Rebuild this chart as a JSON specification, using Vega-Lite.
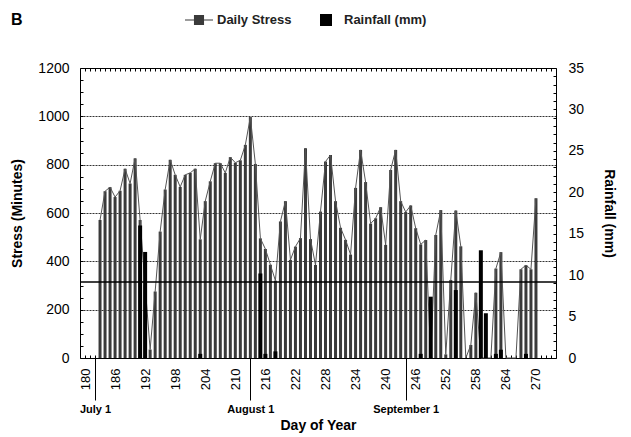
{
  "$schema": "https://vega.github.io/schema/vega-lite/v6.json",
  "width": 476,
  "height": 290,
  "autosize": {"type": "none"},
  "padding": {"left": 80, "top": 68, "right": 75, "bottom": 79},
  "background": "white",
  "config": {
    "font": "Liberation Sans",
    "view": {"stroke": null},
    "axis": {"domainColor": "black", "tickColor": "black", "labelColor": "black", "titleColor": "black", "domainWidth": 1, "tickWidth": 1}
  },
  "title": {"text": "B", "anchor": "start", "frame": "group", "fontSize": 16, "fontWeight": "bold", "font": "Liberation Sans", "dx": -69, "offset": 0, "dy": 22, "color": "black"},
  "datasets": {
    "stress": [
      {"day": 183, "stress": 571}, {"day": 184, "stress": 690}, {"day": 185, "stress": 707}, {"day": 186, "stress": 666},
      {"day": 187, "stress": 692}, {"day": 188, "stress": 783}, {"day": 189, "stress": 722}, {"day": 190, "stress": 826},
      {"day": 191, "stress": 571}, {"day": 192, "stress": 300}, {"day": 193, "stress": 35}, {"day": 194, "stress": 275},
      {"day": 195, "stress": 523}, {"day": 196, "stress": 697}, {"day": 197, "stress": 820}, {"day": 198, "stress": 758},
      {"day": 199, "stress": 708}, {"day": 200, "stress": 758}, {"day": 201, "stress": 766}, {"day": 202, "stress": 783},
      {"day": 203, "stress": 491}, {"day": 204, "stress": 649}, {"day": 205, "stress": 731}, {"day": 206, "stress": 806},
      {"day": 207, "stress": 806}, {"day": 208, "stress": 766}, {"day": 209, "stress": 831}, {"day": 210, "stress": 808},
      {"day": 211, "stress": 818}, {"day": 212, "stress": 882}, {"day": 213, "stress": 997}, {"day": 214, "stress": 803},
      {"day": 215, "stress": 495}, {"day": 216, "stress": 451}, {"day": 217, "stress": 386}, {"day": 218, "stress": 320},
      {"day": 219, "stress": 565}, {"day": 220, "stress": 649}, {"day": 221, "stress": 406}, {"day": 222, "stress": 461},
      {"day": 223, "stress": 496}, {"day": 224, "stress": 868}, {"day": 225, "stress": 492}, {"day": 226, "stress": 385},
      {"day": 227, "stress": 606}, {"day": 228, "stress": 813}, {"day": 229, "stress": 840}, {"day": 230, "stress": 649},
      {"day": 231, "stress": 539}, {"day": 232, "stress": 489}, {"day": 233, "stress": 428}, {"day": 234, "stress": 704},
      {"day": 235, "stress": 861}, {"day": 236, "stress": 728}, {"day": 237, "stress": 556}, {"day": 238, "stress": 578},
      {"day": 239, "stress": 624}, {"day": 240, "stress": 468}, {"day": 241, "stress": 778}, {"day": 242, "stress": 861},
      {"day": 243, "stress": 649}, {"day": 244, "stress": 604}, {"day": 245, "stress": 631}, {"day": 246, "stress": 537},
      {"day": 247, "stress": 470}, {"day": 248, "stress": 488}, {"day": 249, "stress": 5}, {"day": 250, "stress": 509},
      {"day": 251, "stress": 612}, {"day": 252, "stress": 15}, {"day": 253, "stress": 323}, {"day": 254, "stress": 610},
      {"day": 255, "stress": 462}, {"day": 256, "stress": 0}, {"day": 257, "stress": 54}, {"day": 258, "stress": 270},
      {"day": 259, "stress": 0}, {"day": 260, "stress": 0}, {"day": 261, "stress": 0}, {"day": 262, "stress": 370},
      {"day": 263, "stress": 438}, {"day": 264, "stress": 0}, {"day": 265, "stress": 0}, {"day": 266, "stress": 0},
      {"day": 267, "stress": 367}, {"day": 268, "stress": 384}, {"day": 269, "stress": 367}, {"day": 270, "stress": 661}
    ],
    "rain": [
      {"day": 191, "rain": 16.0}, {"day": 192, "rain": 12.8}, {"day": 203, "rain": 0.5}, {"day": 215, "rain": 10.2},
      {"day": 216, "rain": 0.5}, {"day": 218, "rain": 0.8}, {"day": 247, "rain": 0.5}, {"day": 249, "rain": 7.4},
      {"day": 254, "rain": 8.2}, {"day": 259, "rain": 13.0}, {"day": 260, "rain": 5.4}, {"day": 262, "rain": 0.5},
      {"day": 263, "rain": 1.0}, {"day": 268, "rain": 0.5}
    ],
    "threshold": [{"stress": 315}]
  },
  "layer": [
    {
      "data": {"name": "stress"},
      "mark": {"type": "bar", "size": 3},
      "encoding": {
        "x": {
          "field": "day", "type": "quantitative",
          "scale": {"domain": [180, 273], "nice": false, "zero": false},
          "axis": {
            "orient": "bottom",
            "values": [180,181,182,183,184,185,186,187,188,189,190,191,192,193,194,195,196,197,198,199,200,201,202,203,204,205,206,207,208,209,210,211,212,213,214,215,216,217,218,219,220,221,222,223,224,225,226,227,228,229,230,231,232,233,234,235,236,237,238,239,240,241,242,243,244,245,246,247,248,249,250,251,252,253,254,255,256,257,258,259,260,261,262,263,264,265,266,267,268,269,270,271,272,273],
            "format": "d",
            "labelExpr": "(datum.value - 180) % 6 === 0 && datum.value <= 270 ? datum.label : ''",
            "labelAngle": 270, "labelFontSize": 13, "labelPadding": 13, "tickSize": -3,
            "labelOverlap": false, "labelFlush": false, "labelBound": false,
            "grid": false, "title": null
          }
        },
        "y": {
          "field": "stress", "type": "quantitative",
          "scale": {"domain": [0, 1200], "nice": false},
          "axis": {
            "orient": "left",
            "values": [0,50,100,150,200,250,300,350,400,450,500,550,600,650,700,750,800,850,900,950,1000,1050,1100,1150,1200],
            "format": "d",
            "labelExpr": "datum.value % 200 === 0 ? datum.label : ''",
            "labelFontSize": 14, "labelPadding": 14, "tickSize": -3,
            "labelOverlap": false, "labelFlush": false, "labelBound": false,
            "grid": false, "title": "Stress (Minutes)", "titleFontSize": 14, "titleFontWeight": "bold", "titlePadding": 13
          }
        },
        "color": {
          "datum": "Daily Stress", "type": "nominal",
          "scale": {"domain": ["Daily Stress", "Rainfall (mm)"], "range": ["#3a3a3a", "#000000"]},
          "legend": {
            "orient": "none", "legendX": 105, "legendY": -62, "direction": "horizontal", "title": null,
            "symbolSize": 784, "labelFontSize": 13, "labelFontWeight": "bold", "labelColor": "#222222",
            "labelOffset": 4, "columnPadding": 20, "padding": 0, "symbolStrokeWidth": 0,
            "encoding": {
              "symbols": {
                "shape": {"value": {"expr": "datum.value === 'Daily Stress' ? 'M-1,-0.04H1V0.04H-1Z M-0.36,-0.36H0.36V0.36H-0.36Z' : 'M-0.43,-0.43H0.43V0.43H-0.43Z'"}}
              }
            }
          }
        }
      }
    },
    {
      "data": {"name": "stress"},
      "mark": {"type": "line", "color": "#555555", "strokeWidth": 1},
      "encoding": {
        "x": {
          "field": "day", "type": "quantitative",
          "axis": {
            "orient": "top",
            "values": [180,181,182,183,184,185,186,187,188,189,190,191,192,193,194,195,196,197,198,199,200,201,202,203,204,205,206,207,208,209,210,211,212,213,214,215,216,217,218,219,220,221,222,223,224,225,226,227,228,229,230,231,232,233,234,235,236,237,238,239,240,241,242,243,244,245,246,247,248,249,250,251,252,253,254,255,256,257,258,259,260,261,262,263,264,265,266,267,268,269,270,271,272,273],
            "labels": false, "tickSize": -3, "grid": false, "title": null
          }
        },
        "y": {
          "field": "stress", "type": "quantitative",
          "scale": {"domain": [0, 1200], "nice": false},
          "axis": {
            "orient": "left", "values": [200, 400, 600, 800, 1000],
            "labels": false, "ticks": false, "domain": false, "title": null,
            "grid": true, "gridDash": [2, 1], "gridColor": "#333333", "gridWidth": 1, "gridOpacity": 1
          }
        }
      }
    },
    {
      "data": {"name": "rain"},
      "mark": {"type": "bar", "size": 4},
      "encoding": {
        "x": {
          "field": "day", "type": "quantitative",
          "axis": {
            "orient": "bottom", "values": [182, 213, 244],
            "labelExpr": "datum.value === 182 ? 'July 1' : datum.value === 213 ? 'August 1' : 'September 1'",
            "tickSize": 42, "labelPadding": 3, "labelFontSize": 11, "labelFontWeight": "bold", "labelAngle": 0,
            "labelOverlap": false, "labelFlush": false, "labelBound": false,
            "domain": false, "grid": false,
            "title": "Day of Year", "titleFontSize": 14, "titleFontWeight": "bold", "titlePadding": 4
          }
        },
        "y": {
          "field": "rain", "type": "quantitative",
          "scale": {"domain": [0, 35], "nice": false},
          "axis": {
            "orient": "right",
            "values": [0,1,2,3,4,5,6,7,8,9,10,11,12,13,14,15,16,17,18,19,20,21,22,23,24,25,26,27,28,29,30,31,32,33,34,35],
            "format": "d",
            "labelExpr": "datum.value % 5 === 0 ? datum.label : ''",
            "labelFontSize": 14, "labelPadding": 15, "tickSize": -3,
            "labelOverlap": false, "labelFlush": false, "labelBound": false,
            "grid": false, "title": "Rainfall (mm)", "titleFontSize": 14, "titleFontWeight": "bold", "titlePadding": 18
          }
        },
        "color": {"datum": "Rainfall (mm)", "type": "nominal"}
      }
    },
    {
      "data": {"name": "threshold"},
      "mark": {"type": "rule", "color": "black", "strokeWidth": 1.5},
      "encoding": {
        "y": {"field": "stress", "type": "quantitative", "scale": {"domain": [0, 1200], "nice": false}, "axis": null}
      }
    }
  ],
  "resolve": {"scale": {"y": "independent"}, "axis": {"x": "independent", "y": "independent"}}
}
